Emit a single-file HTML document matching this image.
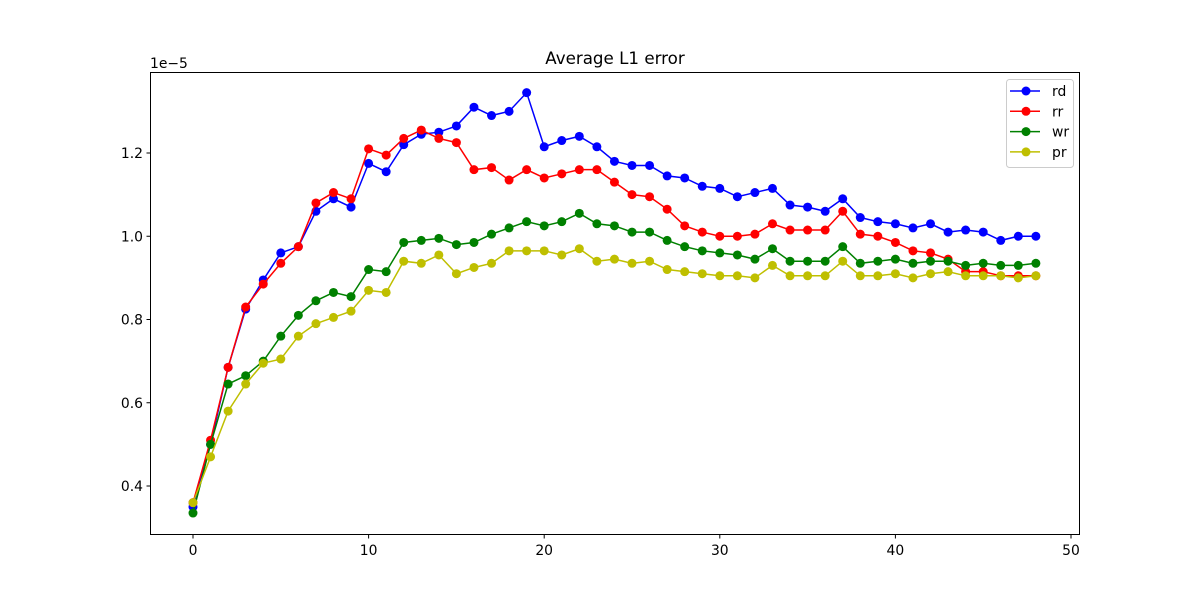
<!DOCTYPE html>
<html><head><meta charset="utf-8"><style>
body{margin:0;background:#fff}
text{font-family:"DejaVu Sans","Liberation Sans",sans-serif;font-size:13.9px;fill:#000}
</style></head><body>
<svg id="chart" width="1200" height="600" xmlns="http://www.w3.org/2000/svg">
<rect width="1200" height="600" fill="#fff"/>
<text x="615" y="64" text-anchor="middle" style="font-size:16.7px">Average L1 error</text>
<text x="150" y="68" style="font-size:13.9px">1e−5</text>
<g id="axes"></g>
<g id="series"></g>
<rect x="150.5" y="72.5" width="929" height="462" fill="none" stroke="#000" stroke-width="1"/>
<g id="legend"></g>
</svg>
<script>
const xTicks=[0,10,20,30,40,50];
const yTicks=[0.4,0.6,0.8,1.0,1.2];
const yTickLabels=["0.4","0.6","0.8","1.0","1.2"];
const seriesNames=["rd","rr","wr","pr"];
const seriesColors=["#0000ff","#ff0000","#008000","#bfbf00"];
const rd=[0.35,0.50,0.685,0.825,0.895,0.96,0.975,1.06,1.09,1.07,1.175,1.155,1.22,1.245,1.25,1.265,1.31,1.29,1.30,1.345,1.215,1.23,1.24,1.215,1.18,1.17,1.17,1.145,1.14,1.12,1.115,1.095,1.105,1.115,1.075,1.07,1.06,1.09,1.045,1.035,1.03,1.02,1.03,1.01,1.015,1.01,0.99,1.0,1.0];
const rr=[0.36,0.51,0.685,0.83,0.885,0.935,0.975,1.08,1.105,1.09,1.21,1.195,1.235,1.255,1.235,1.225,1.16,1.165,1.135,1.16,1.14,1.15,1.16,1.16,1.13,1.10,1.095,1.065,1.025,1.01,1.0,1.0,1.005,1.03,1.015,1.015,1.015,1.06,1.005,1.0,0.985,0.965,0.96,0.945,0.915,0.915,0.905,0.905,0.905];
const wr=[0.335,0.50,0.645,0.665,0.70,0.76,0.81,0.845,0.865,0.855,0.92,0.915,0.985,0.99,0.995,0.98,0.985,1.005,1.02,1.035,1.025,1.035,1.055,1.03,1.025,1.01,1.01,0.99,0.975,0.965,0.96,0.955,0.945,0.97,0.94,0.94,0.94,0.975,0.935,0.94,0.945,0.935,0.94,0.94,0.93,0.935,0.93,0.93,0.935];
const pr=[0.36,0.47,0.58,0.645,0.695,0.705,0.76,0.79,0.805,0.82,0.87,0.865,0.94,0.935,0.955,0.91,0.925,0.935,0.965,0.965,0.965,0.955,0.97,0.94,0.945,0.935,0.94,0.92,0.915,0.91,0.905,0.905,0.90,0.93,0.905,0.905,0.905,0.94,0.905,0.905,0.91,0.90,0.91,0.915,0.905,0.905,0.905,0.90,0.905];
const allSeries=[rd,rr,wr,pr];
const NS="http://www.w3.org/2000/svg";
function X(v){return 193+v*17.56;}
function Y(v){return 486-(v-0.4)*416.25;}
function mk(tag,attrs,parent){const e=document.createElementNS(NS,tag);for(const k in attrs)e.setAttribute(k,attrs[k]);parent.appendChild(e);return e;}
const axes=document.getElementById('axes');
xTicks.forEach(t=>{
  const l=mk('line',{x1:X(t),x2:X(t),y1:534.5,y2:538.5,stroke:'#000'},axes);
  
  
  const tx=mk('text',{x:X(t),y:555,'text-anchor':'middle'},axes);tx.textContent=t;
  
  
});
yTicks.forEach((t,i)=>{
  const l=mk('line',{x1:146.5,x2:150.5,y1:Y(t),y2:Y(t),stroke:'#000'},axes);
  
  
  const tx=mk('text',{x:143,y:Y(t)+5,'text-anchor':'end'},axes);tx.textContent=yTickLabels[i];
  
  
});
const sg=document.getElementById('series');
allSeries.forEach((s,si)=>{
  const g=mk('g',{},sg);
  
  
  mk('polyline',{points:s.map((v,i)=>X(i)+','+Y(v)).join(' '),fill:'none',stroke:seriesColors[si],'stroke-width':1.5},g);
  s.forEach((v,i)=>{
    const c=mk('circle',{cx:X(i),cy:Y(v),r:4.5,fill:seriesColors[si]},g);
    
    
  });
});
const lg=document.getElementById('legend');
mk('rect',{x:1006.5,y:79.5,width:67,height:88,rx:3,fill:'#fff',stroke:'#ccc'},lg);
seriesNames.forEach((n,i)=>{
  const y=91+i*20.3;
  const g=mk('g',{},lg);
  
  
  mk('line',{x1:1010,x2:1040,y1:y,y2:y,stroke:seriesColors[i],'stroke-width':1.5},g);
  mk('circle',{cx:1026,cy:y,r:4.5,fill:seriesColors[i]},g);
  const t=mk('text',{x:1052,y:y+5},g);t.textContent=n;
});
</script>
</body></html>
